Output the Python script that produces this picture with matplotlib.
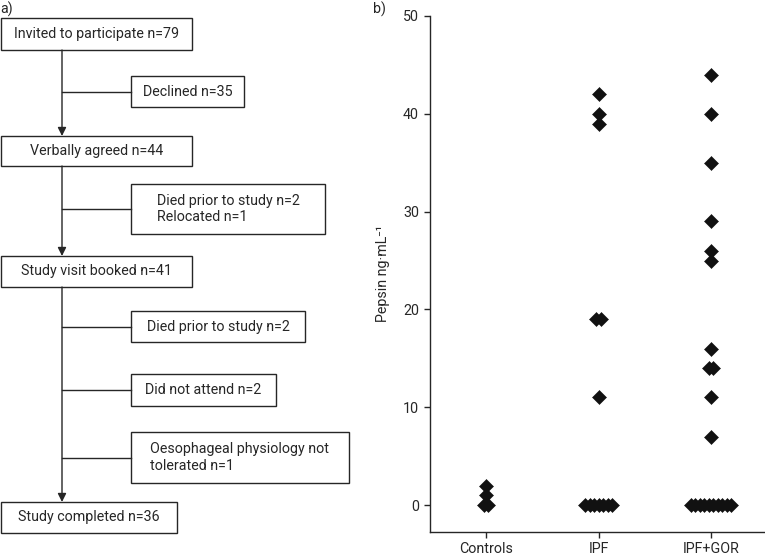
import numpy as np
import matplotlib
matplotlib.use("Agg")
import matplotlib.pyplot as plt
from matplotlib.patches import Rectangle

plt.rcParams['font.family'] = ['Roboto', 'DejaVu Sans']

# panel b data (pepsin, ng/mL)
groups = ["Controls", "IPF", "IPF+GOR"]
controls = [0, 0, 1, 2]
ipf = [42, 40, 39, 19, 19, 11, 0, 0, 0, 0, 0, 0, 0]
ipf_gor = [44, 40, 35, 29, 26, 25, 16, 14, 14, 11, 7,
           0, 0, 0, 0, 0, 0, 0, 0, 0, 0]
yticks = [0, 10, 20, 30, 40, 50]

# panel a flowchart text
main_steps = ["Invited to participate n=79", "Verbally agreed n=44",
              "Study visit booked n=41", "Study completed n=36"]
side_steps = ["Declined n=35", "Died prior to study n=2\nRelocated n=1",
              "Died prior to study n=2", "Did not attend n=2",
              "Oesophageal physiology not\ntolerated n=1"]

ink = "#262626"
fs = 10.3
W, H = 765, 557
fig = plt.figure(figsize=(W / 100, H / 100), dpi=100)

# ---- panel a: flowchart drawn in pixel space ----
fa = fig.add_axes([0, 0, 1, 1])
fa.set_xlim(0, W)
fa.set_ylim(H, 0)
fa.axis("off")

# (x0, y0, x1, y1) boxes
main_boxes = [(1, 18, 192, 50), (1, 136, 192, 166), (1, 256, 192, 287), (1, 502, 177, 533)]
side_boxes = [(131, 76, 244, 107), (131, 184, 325, 234), (131, 311, 305, 342),
              (131, 374, 276, 406), (131, 432, 349, 483)]
stem_x = 62

def box(b, txt):
    x0, y0, x1, y1 = b
    fa.add_patch(Rectangle((x0, y0), x1 - x0, y1 - y0, fill=False, ec=ink, lw=1.0))
    fa.text((x0 + x1) / 2, (y0 + y1) / 2, txt, ha="center", va="center",
            multialignment="left", fontsize=fs, color=ink, linespacing=1.25)

for b, t in zip(main_boxes, main_steps):
    box(b, t)
for b, t in zip(side_boxes, side_steps):
    box(b, t)
    fa.plot([stem_x, b[0]], [(b[1] + b[3]) / 2] * 2, color=ink, lw=1.0)

for top, bot in zip(main_boxes[:-1], main_boxes[1:]):
    fa.annotate("", xy=(stem_x, bot[1]), xytext=(stem_x, top[3]),
                arrowprops=dict(arrowstyle="-|>,head_length=0.5,head_width=0.25",
                                color=ink, lw=1.0, shrinkA=0, shrinkB=0))

fa.text(0, 9, "a)", fontsize=fs, color=ink, va="center", ha="left")
fa.text(373, 9, "b)", fontsize=fs, color=ink, va="center", ha="left")

# ---- panel b: dot plot ----
ax = fig.add_axes([430 / W, 1 - 532 / H, 335 / W, 516 / H])
step = 0.04
for i, vals in enumerate([controls, ipf, ipf_gor]):
    vals = np.array(vals)
    xs = np.zeros(len(vals), dtype=float)
    for v in np.unique(vals):
        idx = np.where(vals == v)[0]
        n = len(idx)
        xs[idx] = (np.arange(n) - (n - 1) / 2) * step
    ax.plot(i + 1 + xs, vals, linestyle="none", marker="D", markersize=6.8,
            color="#111111", mew=0.4)

ax.set_xlim(0.5, 3.48)
ax.set_ylim(-2.75, 50)
ax.set_xticks([1, 2, 3])
ax.set_xticklabels(groups)
ax.set_yticks(yticks)
ax.spines["top"].set_visible(False)
ax.spines["right"].set_visible(False)
for s in ("left", "bottom"):
    ax.spines[s].set_color(ink)
    ax.spines[s].set_linewidth(1.0)
ax.tick_params(colors=ink, labelsize=fs, length=4.5, width=1.0)
ax.tick_params(axis="x", pad=2.5)
ax.set_ylabel("Pepsin ng·mL⁻¹", fontsize=fs, color=ink, labelpad=9)
ax.patch.set_alpha(0)

fig.savefig("out.png", dpi=100)
